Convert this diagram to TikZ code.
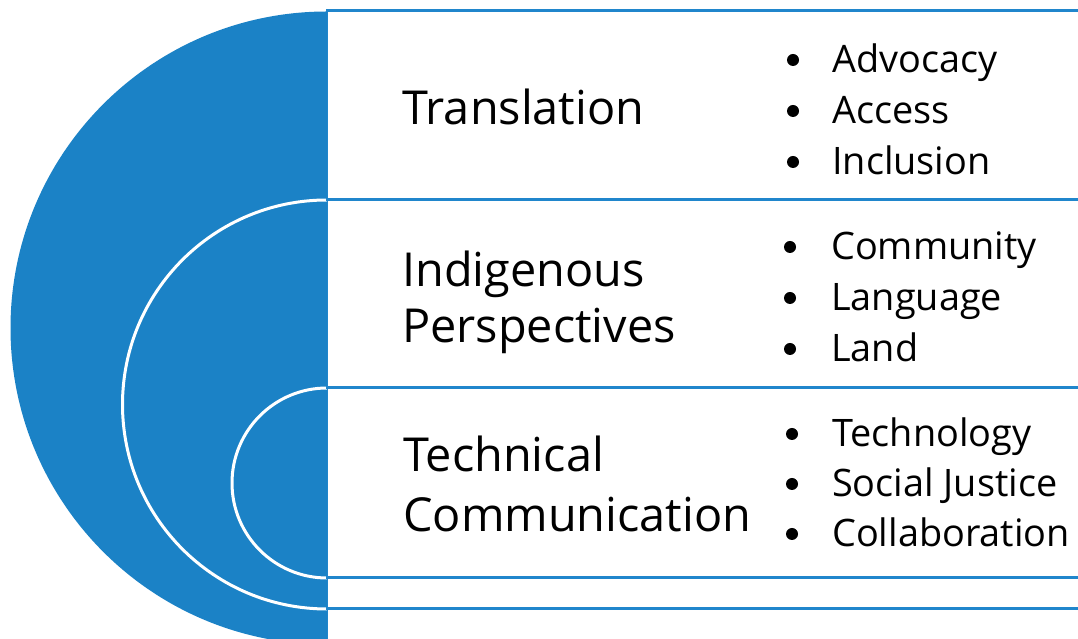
\documentclass[tikz,border=0pt]{standalone}
\usepackage{fontspec}
\setmainfont{Open Sans}
\usepackage{tikz}

\definecolor{diskblue}{RGB}{27,130,198}
\definecolor{ruleblue}{RGB}{32,134,204}

\begin{document}
\begin{tikzpicture}[x=1bp,y=1bp,
    title/.style={font=\fontsize{47}{56}\selectfont, anchor=base west, inner sep=0pt},
    item/.style={font=\fontsize{38}{50}\selectfont, anchor=base west, inner sep=0pt},
    dot/.style={circle, fill=black, inner sep=0pt, minimum size=12bp},
    rule/.style={ruleblue, line width=3bp}]
    \useasboundingbox (0,0) rectangle (1078,639);
    \clip (0,0) rectangle (1078,639);

    % Half disc
    \fill[diskblue] (327,627.5) arc (90:270:316.5) -- cycle;
    \draw[white, line width=3bp] (327,439) arc (90:270:204.5);
    \draw[white, line width=3bp] (327,251) arc (90:270:95);

    % Rows
    \draw[ruleblue, line width=1.2bp] (327.5,628) -- (327.5,0);
    \foreach \y in {628,439,251,61,30}
        \draw[rule] (326,\y) -- (1078,\y);

    % Titles
    \node[title] (trans) at (402,514) {Translation};
    \node[title] (indig) at (402,352) {Indigenous};
    \node[title] (persp) at (402,296) {Perspectives};
    \node[title] (techn) at (403,167) {Technical};
    \node[title] (commu) at (403,107) {Communication};

    % Bullet lists
    \foreach \i/\word in {0/Advocacy,1/Access,2/Inclusion} {
        \node[dot] (tdot\i) at (793,579-51*\i) {};
        \node[item] (titem\i) at (832,566-51*\i) {\word};
    }
    \foreach \i/\word in {0/Community,1/Language,2/Land} {
        \node[dot] (idot\i) at (790,392-51*\i) {};
        \node[item] (iitem\i) at (831,379-51*\i) {\word};
    }
    \foreach \i/\word in {0/Technology,1/Social Justice,2/Collaboration} {
        \node[dot] (cdot\i) at (792,205-50*\i) {};
        \node[item] (citem\i) at (832,192-50*\i) {\word};
    }
\end{tikzpicture}
\end{document}
